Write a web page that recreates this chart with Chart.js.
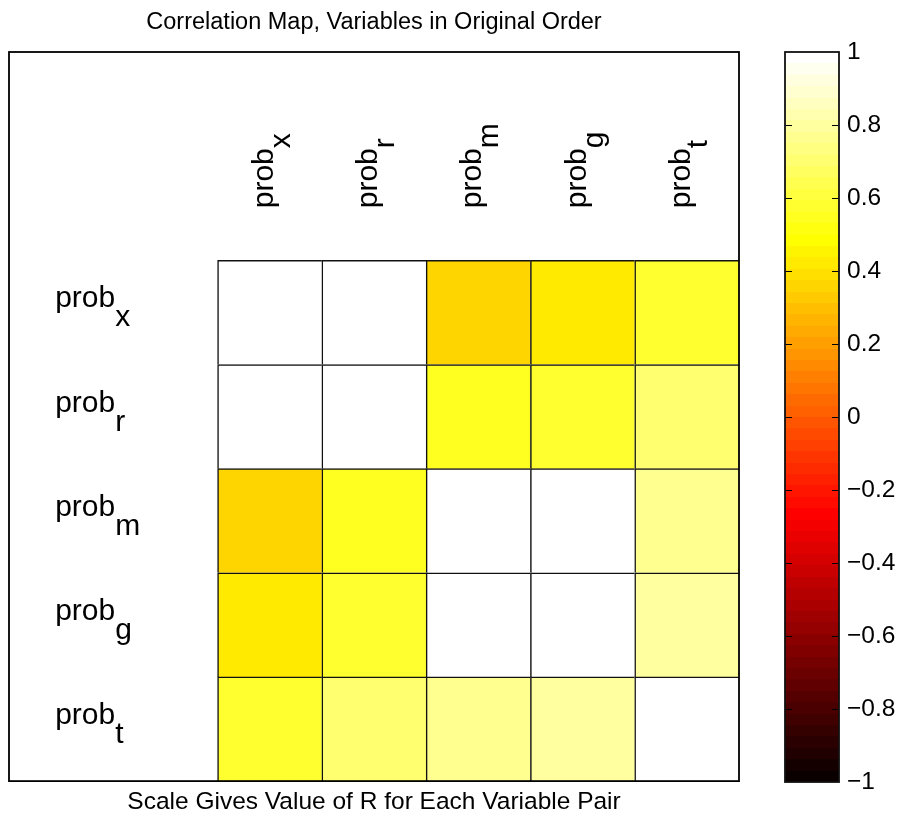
<!DOCTYPE html>
<html>
<head>
<meta charset="utf-8">
<title>Correlation Map</title>
<script src="https://cdn.jsdelivr.net/npm/chart.js@4/dist/chart.umd.min.js"></script>
<style>
  body { margin: 0; background: #fff; }
  #page { position: relative; width: 905px; height: 822px; }
  #mapBox { position: absolute; left: 0; top: 0; width: 760px; height: 822px; }
  #barBox { position: absolute; left: 760px; top: 0; width: 145px; height: 822px; }
</style>
</head>
<body>
<div id="page">
  <div id="mapBox"><canvas id="corrMap"></canvas></div>
  <div id="barBox"><canvas id="colorBar"></canvas></div>
</div>
<script>
// variables (subscripts of prob_*) and correlation rows
const variables = ['x', 'r', 'm', 'g', 't'];
const corrX = [1.00, 0.98, 0.36, 0.42, 0.58];
const corrR = [0.98, 1.00, 0.54, 0.57, 0.70];
const corrM = [0.36, 0.54, 1.00, 0.98, 0.76];
const corrG = [0.42, 0.57, 0.98, 1.00, 0.79];
const corrT = [0.58, 0.70, 0.76, 0.79, 1.00];
const colorTicks = [-1, -0.8, -0.6, -0.4, -0.2, 0, 0.2, 0.4, 0.6, 0.8, 1];

const titleText = 'Correlation Map, Variables in Original Order';
const xLabelText = 'Scale Gives Value of R for Each Variable Pair';

const FONT = '"Liberation Sans", Arial, Helvetica, sans-serif';
Chart.defaults.font.family = FONT;
Chart.defaults.color = '#000';

// matlab hot(64)
function hotIndex(k) {
  const n = k + 1;
  const r = Math.min(n / 24, 1);
  const g = Math.max(0, Math.min((n - 24) / 24, 1));
  const b = Math.max(0, Math.min((n - 48) / 16, 1));
  return `rgb(${Math.round(r * 255)},${Math.round(g * 255)},${Math.round(b * 255)})`;
}
function hotColor(v) {
  let k = Math.floor((v + 1) / 2 * 64);
  k = Math.max(0, Math.min(63, k));
  return hotIndex(k);
}

const corrRows = [corrX, corrR, corrM, corrG, corrT];
const cells = [];
const cellColors = [];
corrRows.forEach((row, i) => {
  row.forEach((r, j) => {
    cells.push({ x: j + 0.5, y: [i, i + 1] });
    cellColors.push(hotColor(r));
  });
});

function drawSub(ctx, base, sub, x0, y0, shift) {
  ctx.textAlign = 'left';
  ctx.textBaseline = 'alphabetic';
  ctx.fillText(base, x0, y0);
  const w = ctx.measureText(base).width;
  ctx.fillText(sub, x0 + w, y0 + shift);
}

const labelPlugin = {
  id: 'matrixLabels',
  afterDraw(chart) {
    const { ctx, chartArea: a, scales: { x, y } } = chart;
    ctx.save();
    ctx.strokeStyle = '#000';
    ctx.lineWidth = 1.8;
    ctx.strokeRect(a.left, a.top, a.right - a.left, a.bottom - a.top);

    ctx.fillStyle = '#000';
    ctx.font = '30px ' + FONT;
    variables.forEach((v, i) => {
      // row labels
      drawSub(ctx, 'prob', v, x.getPixelForValue(-1.5) - 6, y.getPixelForValue(i + 0.5) - 5, 19);
      // column labels, rotated
      ctx.save();
      ctx.translate(x.getPixelForValue(i + 0.5) + 3, y.getPixelForValue(-0.5));
      ctx.rotate(-Math.PI / 2);
      drawSub(ctx, 'prob', v, 0, 0, 17);
      ctx.restore();
    });
    ctx.restore();
  }
};

new Chart(document.getElementById('corrMap'), {
  type: 'bar',
  data: {
    datasets: [{
      data: cells,
      backgroundColor: cellColors,
      borderColor: '#111',
      borderWidth: { top: 1.5, left: 1.5, right: 0, bottom: 0 },
      borderSkipped: false,
      barPercentage: 1,
      categoryPercentage: 1
    }]
  },
  options: {
    responsive: true,
    maintainAspectRatio: false,
    animation: false,
    events: [],
    layout: { padding: { left: 9, right: 21, top: 0, bottom: 3 } },
    plugins: {
      legend: { display: false },
      tooltip: { enabled: false },
      title: {
        display: true,
        text: titleText,
        font: { size: 23.5, weight: 'normal' },
        color: '#000',
        padding: { top: 8, bottom: 15.8 }
      }
    },
    scales: {
      x: {
        type: 'linear',
        display: true,
        offset: false,
        min: -2,
        max: 5,
        ticks: { display: false, stepSize: 1 },
        grid: { display: false, drawTicks: false },
        border: { display: false },
        title: {
          display: true,
          text: xLabelText,
          font: { size: 24.5 },
          color: '#000',
          padding: { top: 6.5, bottom: 2 }
        }
      },
      y: {
        type: 'linear',
        display: true,
        reverse: true,
        beginAtZero: false,
        min: -2,
        max: 5,
        ticks: { display: false, stepSize: 1 },
        grid: { display: false, drawTicks: false },
        border: { display: false }
      }
    }
  },
  plugins: [labelPlugin]
});

const colorBarPlugin = {
  id: 'colorBarFrame',
  afterDatasetsDraw(chart) {
    const { ctx, chartArea: a, scales: { y } } = chart;
    ctx.save();
    ctx.strokeStyle = '#000';
    ctx.lineWidth = 1;
    y.ticks.forEach(t => {
      if (t.value <= -1 || t.value >= 1) return;
      const py = Math.round(y.getPixelForValue(t.value)) + 0.5;
      ctx.beginPath();
      ctx.moveTo(a.left, py); ctx.lineTo(a.left + 7, py);
      ctx.moveTo(a.right - 7, py); ctx.lineTo(a.right, py);
      ctx.stroke();
    });
    ctx.strokeStyle = '#111';
    ctx.lineWidth = 1.8;
    ctx.strokeRect(a.left, a.top, a.right - a.left, a.bottom - a.top);
    ctx.restore();
  }
};

new Chart(document.getElementById('colorBar'), {
  type: 'bar',
  data: {
    labels: [''],
    datasets: [{
      data: [[colorTicks[0], colorTicks[colorTicks.length - 1]]],
      backgroundColor(context) {
        const { chart } = context;
        const { ctx, chartArea, scales } = chart;
        if (!chartArea) return null;
        const top = scales.y.getPixelForValue(1);
        const bottom = scales.y.getPixelForValue(-1);
        const grad = ctx.createLinearGradient(0, bottom, 0, top);
        for (let k = 0; k < 64; k++) {
          const c = hotIndex(k);
          grad.addColorStop(k / 64, c);
          grad.addColorStop((k + 1) / 64, c);
        }
        return grad;
      },
      borderWidth: 0,
      barPercentage: 1,
      categoryPercentage: 1
    }]
  },
  options: {
    responsive: true,
    maintainAspectRatio: false,
    animation: false,
    events: [],
    layout: { padding: { left: 25, right: 0, top: 52, bottom: 40 } },
    plugins: { legend: { display: false }, tooltip: { enabled: false } },
    scales: {
      x: { display: false },
      y: {
        position: 'right',
        min: -1,
        max: 1,
        afterFit(scale) { scale.width = 66; },
        afterBuildTicks(scale) { scale.ticks = colorTicks.map(v => ({ value: v })); },
        ticks: {
          padding: 8,
          font: { size: 24.5 },
          color: '#000',
          callback: v => (v < 0 ? '\u2212' + Math.abs(v) : String(v))
        },
        grid: { display: false, drawTicks: false },
        border: { display: false }
      }
    }
  },
  plugins: [colorBarPlugin]
});
</script>
</body>
</html>
